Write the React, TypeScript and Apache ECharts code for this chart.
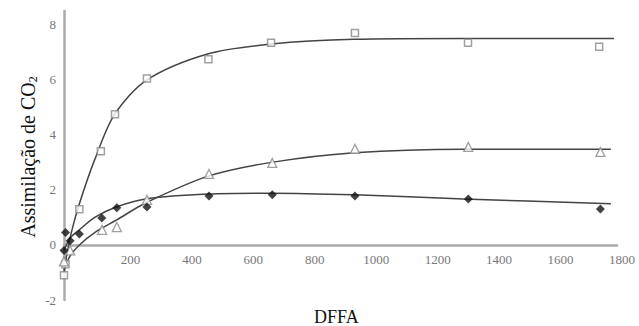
import React, { useEffect, useRef } from "react";
import * as echarts from "echarts";

// Observed points
const squarePts: [number, number][] = [
  [0, -1.1], [5, -0.7], [50, 1.3], [120, 3.4], [166, 4.75], [270, 6.05],
  [470, 6.75], [674, 7.35], [947, 7.7], [1315, 7.35], [1742, 7.2],
];
const trianglePts: [number, number][] = [
  [0, -0.6], [20, -0.2], [124, 0.55], [172, 0.65], [270, 1.64], [472, 2.58],
  [678, 2.98], [947, 3.49], [1316, 3.56], [1746, 3.38],
];
const diamondPts: [number, number][] = [
  [0, -0.2], [5, 0.45], [20, 0.15], [50, 0.4], [123, 0.98], [172, 1.35],
  [270, 1.38], [472, 1.78], [678, 1.82], [947, 1.78], [1316, 1.67], [1746, 1.31],
];

// Fitted curves
const squareCurve: [number, number][] = [
  [0, -1.0], [10, -0.3], [25, 0.5], [50, 1.5], [100, 3.1], [165, 4.75], [270, 6.0],
  [470, 6.95], [675, 7.3], [945, 7.47], [1300, 7.5], [1790, 7.5],
];
const triangleCurve: [number, number][] = [
  [0, -0.9], [20, -0.4], [50, 0.0], [100, 0.45], [170, 0.9], [270, 1.55],
  [470, 2.5], [675, 3.0], [945, 3.35], [1300, 3.48], [1780, 3.48],
];
const diamondCurve: [number, number][] = [
  [0, -0.2], [20, 0.25], [50, 0.55], [100, 1.0], [170, 1.38], [270, 1.68],
  [470, 1.85], [675, 1.88], [945, 1.82], [1300, 1.67], [1780, 1.5],
];

const xTitle = "DFFA";
const yTitle = "Assimilação de CO";
const yTitleSub = "2";
const serif = "Liberation Serif, Times New Roman, serif";

export default function App() {
  const ref = useRef<HTMLDivElement>(null);
  useEffect(() => {
    document.body.style.margin = "0";
    const chart = echarts.init(ref.current!, null, { renderer: "svg" });
    const curveStyle = { color: "#444", width: 1.5 };
    chart.setOption({
      animation: false,
      backgroundColor: "#fff",
      grid: { left: 64, right: 22, top: 11, bottom: 26, containLabel: false, outerBoundsMode: "none" },
      graphic: [
        {
          type: "text",
          left: 340 - 26,
          top: 308,
          style: { text: xTitle, fontFamily: serif, fontSize: 18, fill: "#111" },
        },
        {
          type: "text",
          x: 28,
          y: 157,
          rotation: Math.PI / 2,
          style: {
            text: `{a|${yTitle}}{b|${yTitleSub}}`,
            align: "center",
            verticalAlign: "middle",
            rich: {
              a: { fontFamily: serif, fontSize: 20, fill: "#111" },
              b: { fontFamily: serif, fontSize: 12, fill: "#111", verticalAlign: "bottom", padding: [9, 0, 0, 0] },
            },
          },
        },
      ],
      xAxis: {
        type: "value",
        min: 0,
        max: 1800,
        interval: 200,
        axisLine: { onZero: true, lineStyle: { color: "#aaa", width: 2.5 } },
        axisTick: { show: false },
        splitLine: { show: false },
        axisLabel: {
          showMinLabel: false,
          formatter: (v: number) => String(v),
          fontFamily: serif,
          fontSize: 13,
          color: "#777",
          margin: -47,
          padding: [0, 0, 0, 10],
        },
      },
      yAxis: {
        type: "value",
        min: -2,
        max: 8.5,
        interval: 2,
        axisLine: { show: true, lineStyle: { color: "#aaa", width: 2.5 } },
        axisTick: { show: false },
        splitLine: { show: false },
        axisLabel: {
          showMaxLabel: false,
          formatter: (v: number) => String(v),
          fontFamily: serif,
          fontSize: 13,
          color: "#777",
          margin: 8,
        },
      },
      series: [
        { type: "line", data: squareCurve, smooth: 0.3, symbol: "none", lineStyle: curveStyle, z: 2 },
        { type: "line", data: triangleCurve, smooth: 0.3, symbol: "none", lineStyle: curveStyle, z: 2 },
        { type: "line", data: diamondCurve, smooth: 0.3, symbol: "none", lineStyle: curveStyle, z: 2 },
        {
          type: "scatter", data: squarePts, symbol: "rect", symbolSize: 7,
          itemStyle: { color: "#fff", borderColor: "#888", borderWidth: 1.5 }, z: 3,
        },
        {
          type: "scatter", data: trianglePts, symbol: "triangle", symbolSize: 9,
          itemStyle: { color: "#fff", borderColor: "#888", borderWidth: 1.3 }, z: 3,
        },
        {
          type: "scatter", data: diamondPts, symbol: "diamond", symbolSize: 9,
          itemStyle: { color: "#111" }, z: 4,
        },
      ],
    });
    return () => chart.dispose();
  }, []);
  return <div ref={ref} style={{ width: 639, height: 326 }} />;
}
